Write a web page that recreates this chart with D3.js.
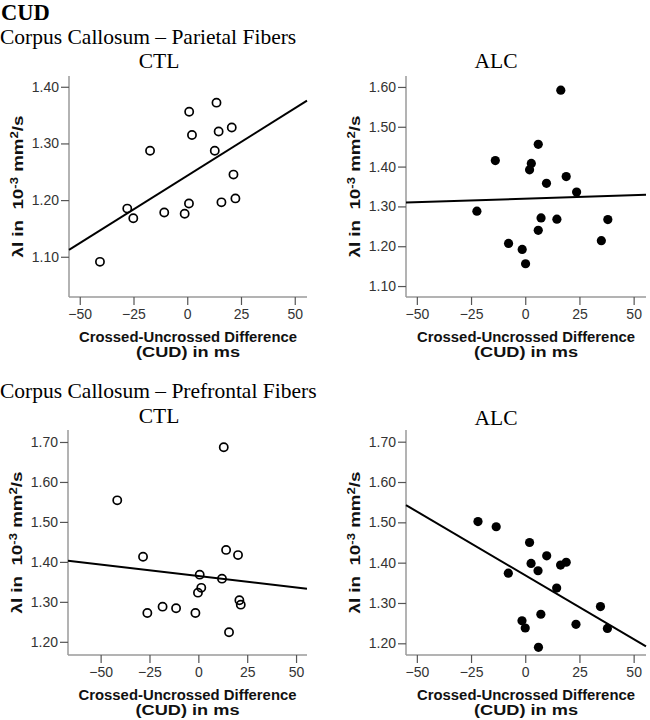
<!DOCTYPE html>
<html><head><meta charset="utf-8">
<script src="https://cdn.jsdelivr.net/npm/d3@7"></script>
<style>body{margin:0;background:#fff}</style>
</head><body><svg id="c" width="650" height="720"></svg>
<script>
// ---- data ----
const ctlParietalX = [-40.6,-27.9,-25.1,-17.3,-10.7,-1.2,0.8,0.9,2.2,12.8,13.6,14.6,15.9,20.7,21.5,22.4];
const ctlParietalY = [1.091,1.185,1.168,1.287,1.178,1.176,1.194,1.356,1.315,1.287,1.372,1.321,1.196,1.328,1.245,1.203];
const alcParietalX = [-22.3,-13.8,-7.7,-1.4,0.15,2.0,2.8,6.0,6.0,7.3,9.8,14.6,16.4,18.9,23.7,35.1,38.1];
const alcParietalY = [1.288,1.415,1.207,1.192,1.156,1.392,1.408,1.456,1.240,1.271,1.358,1.268,1.592,1.375,1.336,1.214,1.267];
const ctlPrefrontalX = [-41.5,-28.3,-26.1,-18.3,-11.4,-1.5,-0.2,0.7,1.5,12.1,13.0,14.2,15.7,20.3,21.0,21.7];
const ctlPrefrontalY = [1.554,1.413,1.272,1.288,1.284,1.272,1.323,1.368,1.335,1.358,1.687,1.430,1.224,1.417,1.304,1.293];
const alcPrefrontalX = [-21.8,-13.4,-7.8,-1.5,0,2.0,2.7,5.9,6.1,7.2,9.9,14.5,16.3,18.9,23.4,34.7,37.9];
const alcPrefrontalY = [1.502,1.489,1.374,1.256,1.238,1.450,1.398,1.380,1.190,1.272,1.417,1.337,1.394,1.401,1.247,1.291,1.237];
// fit lines [intercept, slope]
const ctlParietalFit = [1.243, 0.002377];
const alcParietalFit = [1.3194, 0.000172];
const ctlPrefrontalFit = [1.3646, -0.000576];
const alcPrefrontalFit = [1.3687, -0.003164];
// axis ranges and ticks
const xTicks = [-50,-25,0,25,50];
const yTicksParCTL = [1.10,1.20,1.30,1.40];
const yTicksParALC = [1.10,1.20,1.30,1.40,1.50,1.60];
const yTicksPre = [1.20,1.30,1.40,1.50,1.60,1.70];
const xDomainStd = [-55, 55.7];
const xDomainPreCTL = [-66.7, 55.6];
const yDomainParCTL = [1.029, 1.419];
const yDomainParALC = [1.0725, 1.6275];
const yDomainPreCTL = [1.167, 1.730];
const yDomainPreALC = [1.171, 1.729];
const sectionTitles = ["Corpus Callosum \u2013 Parietal Fibers","Corpus Callosum \u2013 Prefrontal Fibers"];
const groupNames = ["CTL","ALC"];
const xTitleLines = ["Crossed-Uncrossed Difference","(CUD) in ms"];

const svg = d3.select("#c");
const serif = "'Liberation Serif','Times New Roman',serif";
const sans = "'Liberation Sans',Arial,sans-serif";

svg.append("text").attr("x",1).attr("y",20).attr("font-family",serif).attr("font-weight","bold")
  .attr("font-size",22.5).text("CUD");
svg.append("text").attr("x",0).attr("y",44).attr("font-family",serif).attr("font-size",21.5).text(sectionTitles[0]);
svg.append("text").attr("x",0).attr("y",398).attr("font-family",serif).attr("font-size",21.5).text(sectionTitles[1]);

const panels = [
  {x:ctlParietalX,y:ctlParietalY,fit:ctlParietalFit,xd:xDomainStd,yd:yDomainParCTL,yt:yTicksParCTL,filled:false,
   L:69,R:307,T:76,B:297,title:groupNames[0],tx:159,ty:68},
  {x:alcParietalX,y:alcParietalY,fit:alcParietalFit,xd:xDomainStd,yd:yDomainParALC,yt:yTicksParALC,filled:true,
   L:406,R:646,T:76,B:297,title:groupNames[1],tx:496,ty:68},
  {x:ctlPrefrontalX,y:ctlPrefrontalY,fit:ctlPrefrontalFit,xd:xDomainPreCTL,yd:yDomainPreCTL,yt:yTicksPre,filled:false,
   L:68,R:307,T:430,B:655,title:groupNames[0],tx:159,ty:423},
  {x:alcPrefrontalX,y:alcPrefrontalY,fit:alcPrefrontalFit,xd:xDomainStd,yd:yDomainPreALC,yt:yTicksPre,filled:true,
   L:406,R:646,T:430,B:655,title:groupNames[1],tx:496,ty:425}
];

panels.forEach(p => {
  const xs = d3.scaleLinear().domain(p.xd).range([p.L,p.R]);
  const ys = d3.scaleLinear().domain(p.yd).range([p.B,p.T]);
  const g = svg.append("g");

  g.append("text").attr("x",p.tx).attr("y",p.ty).attr("text-anchor","middle")
    .attr("font-family",serif).attr("font-size",21.5).text(p.title);

  const xa = g.append("g").attr("transform",`translate(0,${p.B})`)
    .call(d3.axisBottom(xs).tickValues(xTicks).tickSize(8).tickPadding(4).tickFormat(d3.format("d")));
  const ya = g.append("g").attr("transform",`translate(${p.L},0)`)
    .call(d3.axisLeft(ys).tickValues(p.yt).tickSize(8).tickPadding(2).tickFormat(d3.format(".2f")));
  [xa,ya].forEach(a=>{
    a.select(".domain").attr("stroke","#9a9a9a").attr("stroke-width",1.5);
    a.selectAll(".tick line").attr("stroke","#555").attr("stroke-width",1.2);
    a.selectAll(".tick text").attr("font-family",sans).attr("font-size",14).attr("fill","#333");
  });
  xa.select(".domain").attr("d",`M${p.L},0H${p.R}`);
  ya.select(".domain").attr("d",`M0,${p.T}V${p.B}`);

  const cx = (p.L+p.R)/2;
  g.append("text").attr("x",cx).attr("y",p.B+45).attr("text-anchor","middle").attr("font-family",sans)
    .attr("font-weight","bold").attr("font-size",14.5).attr("fill","#111")
    .attr("textLength",218).attr("lengthAdjust","spacingAndGlyphs").text(xTitleLines[0]);
  g.append("text").attr("x",cx).attr("y",p.B+60).attr("text-anchor","middle").attr("font-family",sans)
    .attr("font-weight","bold").attr("font-size",14.5).attr("fill","#111")
    .attr("textLength",104).attr("lengthAdjust","spacingAndGlyphs").text(xTitleLines[1]);

  const yt = g.append("text").attr("transform",`translate(${p.L-46},${(p.T+p.B)/2}) rotate(-90)`)
    .attr("text-anchor","middle").attr("font-family",sans).attr("font-weight","bold")
    .attr("font-size",15).attr("fill","#111")
    .attr("textLength",142).attr("lengthAdjust","spacingAndGlyphs");
  yt.append("tspan").text("\u03bbl in\u00a0\u00a010");
  yt.append("tspan").attr("dy",-5).attr("font-size",10.5).text("-3");
  yt.append("tspan").attr("dy",5).text("\u00a0mm");
  yt.append("tspan").attr("dy",-5).attr("font-size",10.5).text("2");
  yt.append("tspan").attr("dy",5).text("/s");

  const line = d3.line().x(d=>xs(d)).y(d=>ys(p.fit[0]+p.fit[1]*d));
  g.append("path").datum(p.xd).attr("d",line).attr("fill","none").attr("stroke","#000").attr("stroke-width",2);

  g.selectAll("circle").data(d3.range(p.x.length)).join("circle")
    .attr("cx",i=>xs(p.x[i])).attr("cy",i=>ys(p.y[i]))
    .attr("r",p.filled?4.6:4.1)
    .attr("fill",p.filled?"#000":"none").attr("stroke","#000").attr("stroke-width",p.filled?0:1.7);
});
</script></body></html>
